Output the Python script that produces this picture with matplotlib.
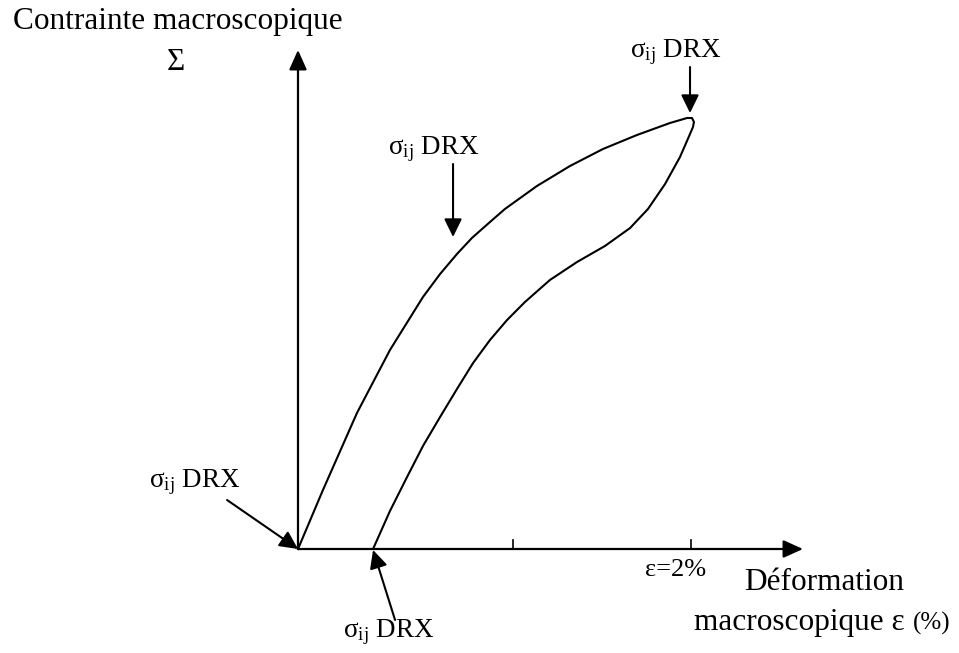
import numpy as np
import matplotlib
matplotlib.use('Agg')
import matplotlib.pyplot as plt

plt.rcParams['font.family'] = ['Liberation Serif', 'DejaVu Serif']
plt.rcParams['mathtext.fontset'] = 'custom'
plt.rcParams['mathtext.rm'] = 'Liberation Serif'
plt.rcParams['mathtext.it'] = 'Liberation Serif:italic'

# loading branch: strain (%) / macroscopic stress (arbitrary units)
load_eps = [0.000, 0.127, 0.300, 0.468, 0.636, 0.723, 0.809, 0.885, 0.977, 1.053, 1.216,
            1.384, 1.552, 1.725, 1.893, 1.980, 2.005, 2.015]
load_sig = [0, 59, 136, 199, 252, 275, 295, 311, 327, 340, 363, 383, 400, 414, 426, 431,
            431, 427]

# unloading branch
unload_eps = [2.010, 1.995, 1.944, 1.868, 1.781, 1.690, 1.562, 1.420, 1.282, 1.155, 1.064,
              0.977, 0.891, 0.809, 0.723, 0.636, 0.555, 0.468, 0.382]
unload_sig = [422, 415, 392, 365, 340, 321, 303, 287, 269, 247, 229, 209, 186, 160, 132,
              103, 72, 38, 0]

ticks_eps = [1.094, 2.0]
label_drx = 'σ$_{\\mathrm{ij}}$ DRX'

fig = plt.figure(figsize=(9.59, 6.53), dpi=100)
ax = fig.add_axes([0, 0, 1, 1])
ax.set_xlim(-298 / 196.5, 661 / 196.5)
ax.set_ylim(-104, 549)
ax.axis('off')

# hysteresis loop
ax.plot(load_eps + unload_eps, load_sig + unload_sig, color='k', lw=1.5,
        solid_joinstyle='round')

# axes with arrow heads
axis_arrow = dict(arrowstyle='-|>,head_length=0.6,head_width=0.27', color='k', lw=1.6,
                  shrinkA=0, shrinkB=0, mutation_scale=20)
ax.annotate('', xy=(0, 499), xytext=(0, 0), arrowprops=axis_arrow)
ax.annotate('', xy=(2.57, 0), xytext=(0, 0), arrowprops=axis_arrow)
for t in ticks_eps:
    ax.plot([t, t], [0, 9], color='k', lw=1.2)

ax.text(-1.450, 527, 'Contrainte macroscopique', fontsize=22.5, ha='left', va='center')
ax.text(-0.621, 487, 'Σ', fontsize=22.5, ha='center', va='center')
ax.text(1.919, -21, 'ε=2%', fontsize=19, ha='center', va='center')
ax.text(2.677, -41, 'Déformation', fontsize=22.5, ha='center', va='baseline')
ax.text(3.089, -81, 'macroscopique ε', fontsize=22.5, ha='right', va='baseline')
ax.text(3.130, -81, '(%)', fontsize=18, ha='left', va='baseline')

# DRX measurement points
ann_arrow = dict(arrowstyle='-|>,head_length=0.55,head_width=0.27', color='k', lw=1.5,
                 shrinkA=0, shrinkB=0, mutation_scale=20)
ax.text(-0.524, 67, label_drx, fontsize=19.5, ha='center', va='center')
ax.annotate('', xy=(load_eps[0], load_sig[0]), xytext=(-0.361, 49), arrowprops=ann_arrow)

ax.text(0.463, -83, label_drx, fontsize=19.5, ha='center', va='center')
ax.annotate('', xy=(unload_eps[-1], unload_sig[-1] - 1), xytext=(0.494, -71), arrowprops=ann_arrow)

ax.text(0.692, 400, label_drx, fontsize=19.5, ha='center', va='center')
ax.annotate('', xy=(0.789, 312), xytext=(0.789, 385), arrowprops=ann_arrow)

ax.text(1.924, 497, label_drx, fontsize=19.5, ha='center', va='center')
ax.annotate('', xy=(1.995, 436), xytext=(1.995, 482), arrowprops=ann_arrow)

fig.savefig('out.png', dpi=100)
